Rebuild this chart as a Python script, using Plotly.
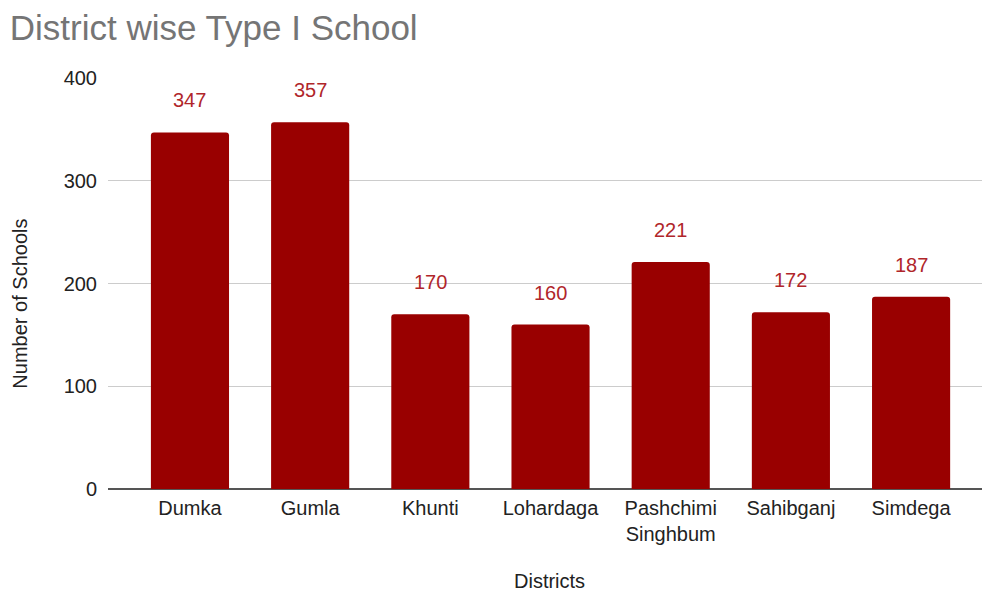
import plotly.graph_objects as go

districts = ["Dumka", "Gumla", "Khunti", "Lohardaga", "Pashchimi<br>Singhbum", "Sahibganj", "Simdega"]
schools = [347, 357, 170, 160, 221, 172, 187]
y_ticks = [0, 100, 200, 300, 400]

FONT = "Liberation Sans, Arial, sans-serif"

fig = go.Figure()
fig.add_trace(go.Bar(
    x=list(range(len(districts))), y=schools,
    marker=dict(color="#990000", cornerradius=3, line=dict(width=0)),
    width=0.65, hoverinfo="skip",
))

for i, v in enumerate(schools):
    fig.add_annotation(x=i, y=v, text=str(v), showarrow=False, yanchor="middle",
                       yshift=32, font=dict(family=FONT, size=20, color="#b0262a"))

fig.add_annotation(xref="paper", yref="paper", x=0.5046, y=-0.225, text="Districts",
                   showarrow=False, xanchor="center", yanchor="middle",
                   font=dict(family=FONT, size=20, color="#222222"))
fig.add_annotation(xref="paper", yref="paper", x=-0.1007, y=0.451, text="Number of Schools",
                   showarrow=False, xanchor="center", yanchor="middle", textangle=-90,
                   font=dict(family=FONT, size=20, color="#222222"))

fig.update_layout(
    width=982, height=591,
    margin=dict(l=108, r=0, t=78, b=101.5, autoexpand=False),
    paper_bgcolor="white", plot_bgcolor="white",
    showlegend=False,
    title=dict(text="District wise Type I School", x=0.01, xanchor="left",
               y=1 - 28 / 591, yanchor="middle",
               font=dict(family=FONT, size=35, color="#757575")),
    font=dict(family=FONT, size=20, color="#222222"),
    xaxis=dict(
        range=[-0.682, 6.59], tickmode="array",
        tickvals=list(range(len(districts))), ticktext=districts,
        showgrid=False, zeroline=False, showline=False, ticks="",
        ticklabelstandoff=5,
        tickfont=dict(family=FONT, size=20, color="#222222"),
    ),
    yaxis=dict(
        range=[0, 400], tickmode="array", tickvals=y_ticks,
        ticktext=[str(t) for t in y_ticks],
        showgrid=True, gridcolor="#cccccc", gridwidth=1,
        zeroline=True, zerolinecolor="#555555", zerolinewidth=2,
        showline=False, ticks="", ticklabelstandoff=10,
        tickfont=dict(family=FONT, size=20, color="#222222"),
    ),
)

fig.write_html("out.html")
